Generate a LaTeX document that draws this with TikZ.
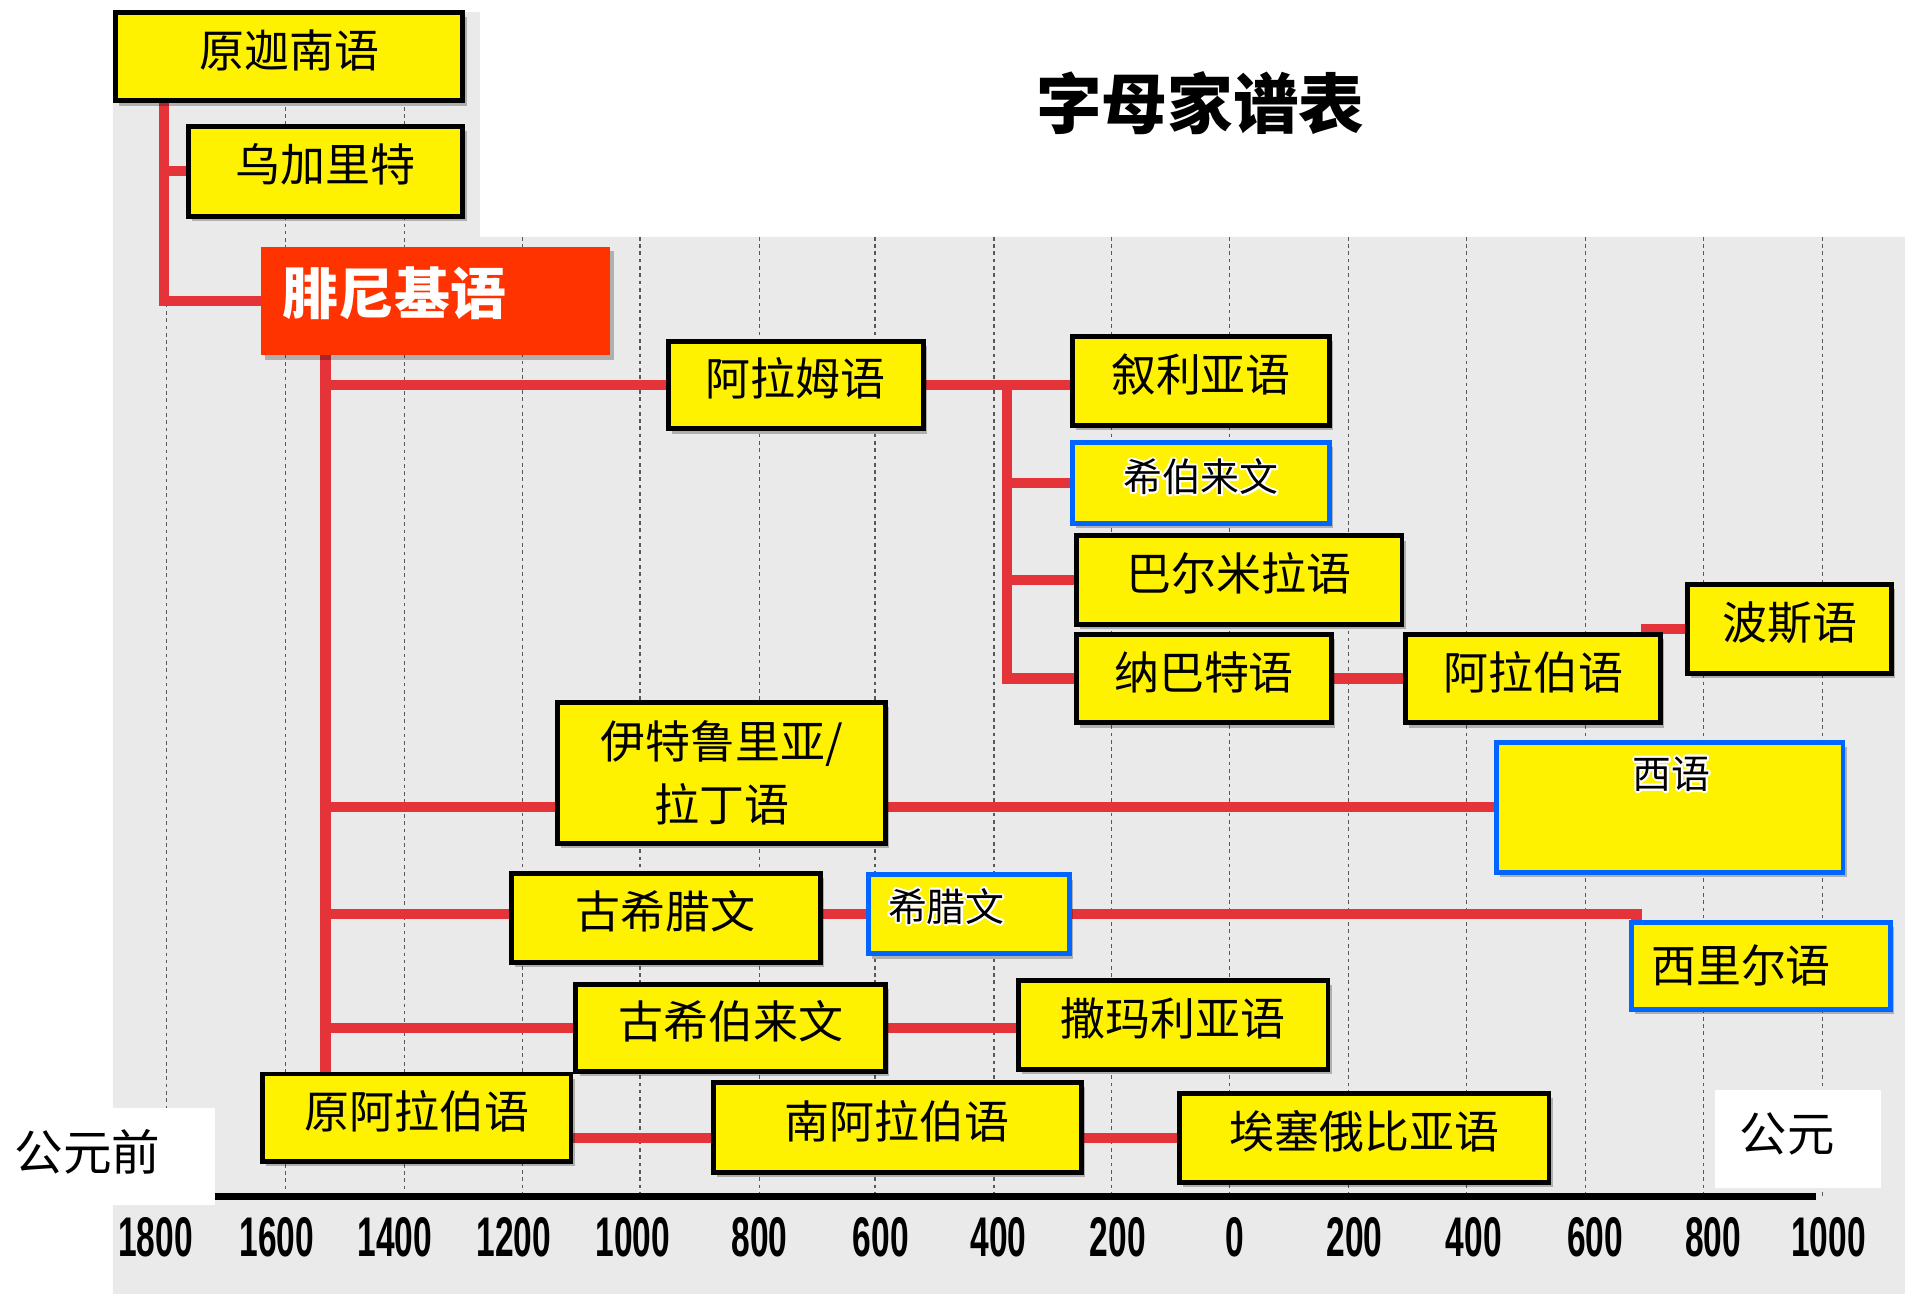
\documentclass[tikz,border=0pt]{standalone}
\usepackage{fontspec}
\newfontfamily\cjk{Noto Sans CJK SC}
\newfontfamily\numfont{Liberation Sans}
\usepackage[copies]{contour}
\contourlength{1.6pt}
\usetikzlibrary{calc,shadows}
\definecolor{redline}{RGB}{228,52,58}
\definecolor{phred}{RGB}{255,51,0}
\definecolor{boxblue}{RGB}{0,102,255}
\definecolor{bggray}{RGB}{234,234,234}
\pgfdeclarelayer{bg}
\pgfdeclarelayer{lines}
\pgfsetlayers{bg,lines,main}
\tikzset{
  ybox/.style={draw=black, line width=4pt, fill=yellow, inner sep=0pt,
    font=\cjk\fontsize{37}{44}\selectfont, text height=27.2pt, text depth=9.8pt,
    drop shadow={shadow xshift=3pt, shadow yshift=-4pt, opacity=0.25, fill=black}},
  bbox/.style={ybox, draw=boxblue},
  conn/.style={draw=redline, line width=8.5pt},
  grid/.style={draw=black!65, line width=1.3pt, dash pattern=on 3pt off 3pt},
  yearlbl/.style={font=\numfont\bfseries\fontsize{46}{50}\selectfont, inner sep=0pt},
  halo/.style={font=\cjk\fontsize{32}{38}\selectfont, inner sep=0pt}
}
\begin{document}
\begin{tikzpicture}[x=1pt,y=-1pt]
\useasboundingbox (0,0) rectangle (1568,1065);
% background
\begin{pgfonlayer}{bg}
  \fill[white] (0,0) rectangle (1568,1065);
  \fill[bggray] (93,10) -- (395,10) -- (395,195) -- (1568,195) -- (1568,1065) -- (93,1065) -- cycle;
  \foreach \gx in {137,235,333}{\draw[grid] (\gx,10) -- (\gx,985);}
  \foreach \gx in {430,527,625,720,818,915,1012,1110,1207,1305,1402,1500}{\draw[grid] (\gx,195) -- (\gx,985);}
  \fill[white] (0,912) rectangle (177,992);
  \fill[white] (1412,897) rectangle (1548,978);
  \draw[line width=6pt] (177,985) -- (1495,985);
\end{pgfonlayer}

% title
\node[font=\cjk\bfseries\fontsize{54}{60}\selectfont] (title) at (988,85) {字母家谱表};

% era labels
\node[font=\cjk\fontsize{40}{46}\selectfont, inner sep=0pt] (bce) at (72,948) {公元前};
\node[font=\cjk\fontsize{39}{46}\selectfont, inner sep=0pt] (ce) at (1471,933) {公元};

% year labels
\foreach \yx/\yl [count=\i] in {128/1800,228/1600,325/1400,423/1200,521/1000,625/800,725/600,822/400,920/200,1016/0,1115/200,1213/400,1313/600,1410/800,1505/1000}{
  \node[yearlbl] (yr\i) at (\yx,1018) {\scalebox{0.6}[1]{\yl}};
}

% boxes
\node[ybox, minimum width=286pt, minimum height=73pt] (cana) at (238,46.5) {原迦南语};
\node[ybox, minimum width=226pt, minimum height=74pt] (ugar) at (268,141) {乌加里特};
\node[fill=phred, inner sep=0pt, minimum width=287pt, minimum height=89pt,
      text height=34.5pt, text depth=11.5pt,
      drop shadow={shadow xshift=3pt, shadow yshift=-4pt, opacity=0.25, fill=black},
      font=\cjk\bfseries\fontsize{46}{52}\selectfont, text=white] (phoen) at (358.5,247.5)
      {\makebox[252pt][l]{腓尼基语}};
\node[ybox, minimum width=210pt, minimum height=72pt] (aram) at (655,317) {阿拉姆语};
\node[ybox, minimum width=211pt, minimum height=73pt] (syr) at (988.5,313.5) {叙利亚语};
\node[bbox, minimum width=211pt, minimum height=67pt, font=\cjk\fontsize{32}{38}\selectfont,
      text height=23.3pt, text depth=8.7pt] (heb) at (988.5,397.5) {\contour{white}{希伯来文}};
\node[ybox, minimum width=268pt, minimum height=73pt] (palm) at (1020,477.5) {巴尔米拉语};
\node[ybox, minimum width=210pt, minimum height=73pt] (naba) at (991,558.5) {纳巴特语};
\node[ybox, minimum width=210pt, minimum height=73pt] (arab) at (1262,558.5) {阿拉伯语};
\node[ybox, minimum width=168pt, minimum height=73pt] (pers) at (1473,517.5) {波斯语};
\node[ybox, minimum width=270pt, minimum height=116pt, align=center, text height=, text depth=,
      font=\cjk\fontsize{37}{52}\selectfont] (etr) at (594,636) {伊特鲁里亚/\\拉丁语};
\node[bbox, minimum width=285pt, minimum height=107pt] (west) at (1374.5,664.5) {};
\node[halo] (westtxt) at (1376,638) {\contour{white}{西语}};
\node[ybox, minimum width=254pt, minimum height=73pt] (agreek) at (548,755.5) {古希腊文};
\node[bbox, minimum width=165pt, minimum height=65pt] (greek) at (797.5,752.5) {};
\node[halo] (greektxt) at (779,747) {\contour{white}{希腊文}};
\node[bbox, minimum width=213pt, minimum height=72pt, text height=, text depth=] (cyr) at (1449.5,795) {\makebox[181pt][l]{西里尔语}};
\node[ybox, minimum width=255pt, minimum height=72pt] (aheb) at (601.5,846) {古希伯来文};
\node[ybox, minimum width=255pt, minimum height=73pt] (samar) at (965.5,843.5) {撒玛利亚语};
\node[ybox, minimum width=254pt, minimum height=72pt] (parab) at (343,920) {原阿拉伯语};
\node[ybox, minimum width=303pt, minimum height=74pt] (sarab) at (738.5,928) {南阿拉伯语};
\node[ybox, minimum width=304pt, minimum height=73pt] (ethi) at (1123,936.5) {埃塞俄比亚语};

% connectors
\begin{pgfonlayer}{lines}
  \coordinate (root) at ($(cana.south west)+(42,0)$);
  \draw[conn] (root) |- (phoen.west);
  \draw[conn] (root |- ugar.west) -- (ugar.west);
  \coordinate (trunk) at ($(phoen.south west)+(53,0)$);
  \draw[conn] (trunk) -- (trunk |- parab.north);
  \draw[conn] (trunk |- aram.west) -- (aram.west);
  \draw[conn] (aram.east) -- (aram.east -| syr.west);
  \coordinate (split) at ($(aram.east -| syr.west)+(-52,0)$);
  \draw[conn] (split) |- (naba.west);
  \draw[conn] (split |- heb.west) -- (heb.west);
  \draw[conn] (split |- palm.west) -- (palm.west);
  \draw[conn] (naba.east) -- (arab.west);
  \draw[conn] ($(arab.north east)+(-14,0)$) |- (pers.west);
  \draw[conn] (trunk |- west.west) -- (etr.west |- west.west);
  \draw[conn] (etr.east |- west.west) -- (west.west);
  \draw[conn] (trunk |- greek.west) -- (agreek.west |- greek.west);
  \draw[conn] (agreek.east |- greek.west) -- (greek.west);
  \draw[conn] (greek.east) -| ($(cyr.north west)+(6,0)$);
  \draw[conn] (trunk |- aheb.west) -- (aheb.west);
  \draw[conn] (aheb.east) -- (aheb.east -| samar.west);
  \draw[conn] (parab.east |- ethi.west) -- (sarab.west |- ethi.west);
  \draw[conn] (sarab.east |- ethi.west) -- (ethi.west);
\end{pgfonlayer}
\end{tikzpicture}
\end{document}
